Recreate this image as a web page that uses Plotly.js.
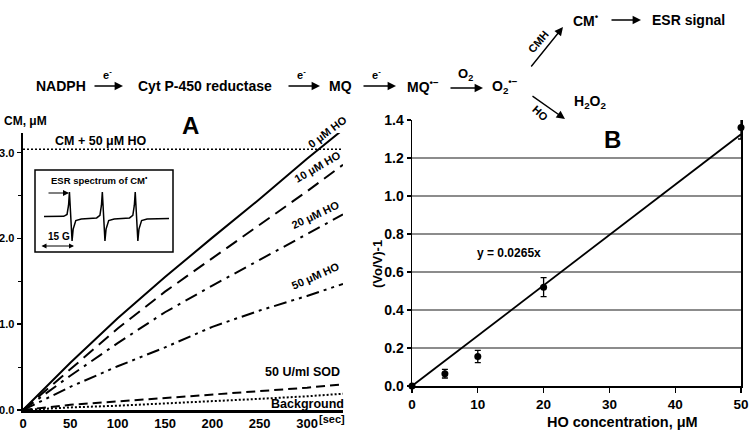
<!DOCTYPE html>
<html>
<head>
<meta charset="utf-8">
<script src="https://cdn.plot.ly/plotly-3.0.1.min.js"></script>
<style>
  html, body { margin: 0; padding: 0; background: #fff; }
  #chart { width: 750px; height: 430px; }
</style>
</head>
<body>
<div id="chart"></div>
<script>
// Panel A - CM radical accumulation over time
const timeSec = [0, 50, 100, 150, 200, 250, 300, 338];
const cmHo0 = [0, 0.55, 1.07, 1.55, 2.01, 2.46, 2.93, 3.27];
const cmHo10 = [0, 0.48, 0.95, 1.38, 1.77, 2.16, 2.55, 2.86];
const cmHo20 = [0, 0.40, 0.78, 1.14, 1.45, 1.75, 2.05, 2.28];
const cmHo50 = [0, 0.27, 0.51, 0.73, 0.97, 1.16, 1.33, 1.47];
const cmSod = [0, 0.06, 0.10, 0.14, 0.18, 0.22, 0.26, 0.30];
const cmBackground = [0, 0.03, 0.05, 0.075, 0.10, 0.13, 0.16, 0.19];
const flatTime = [0, 338];
const cmPlusHo = [3.04, 3.04];
const timeTicks = [0, 50, 100, 150, 200, 250, 300];

// Inset - ESR spectrum of CM* (field in G, arbitrary intensity)
const esrField = [0, 5, 9, 10.5, 11.2, 11.6, 12.0, 12.4, 12.8, 13.3, 14.5, 17,
    22, 24, 25.5, 26.2, 26.6, 27.0, 27.4, 27.8, 28.3, 29.5, 32,
    37, 39, 40.5, 41.2, 41.6, 42.0, 42.4, 42.8, 43.3, 44.5, 47, 57];
const esrSignal = [0.07, 0.08, 0.08, 0.15, 0.5, 1.0, 0.2, -0.6, -0.85, -0.4, -0.08, -0.02,
    0, 0.02, 0.12, 0.5, 1.0, 0.2, -0.6, -0.85, -0.4, -0.08, -0.02,
    0, 0.02, 0.12, 0.5, 1.0, 0.2, -0.6, -0.85, -0.4, -0.08, -0.02, 0];

// Panel B - (Vo/V)-1 vs HO concentration
const hoConc = [0, 5, 10, 20, 50];
const ratio = [0, 0.065, 0.155, 0.52, 1.36];
const ratioErr = [0, 0.023, 0.032, 0.05, 0.06];
const fitX = [0, 50];
const fitY = [0, 1.325];

const W = 750, H = 430;
const px = x => x / W;
const py = y => 1 - y / H;
const FONT = 'Liberation Sans, Arial, sans-serif';

function bold(size) {
    return { family: FONT, size: size, color: '#000', weight: 'bold' };
}

function lineTrace(x, y, dash, width) {
    return {
        x: x, y: y, type: 'scatter', mode: 'lines',
        xaxis: 'x', yaxis: 'y',
        line: { color: '#000', width: width || 2, dash: dash },
        hoverinfo: 'skip', showlegend: false
    };
}

const traces = [
    lineTrace(flatTime, cmPlusHo, '2px,2px', 1.6),
    lineTrace(timeSec, cmHo0, 'solid', 2),
    lineTrace(timeSec, cmHo10, '13px,7px', 2),
    lineTrace(timeSec, cmHo20, '13px,6px,3px,6px', 2),
    lineTrace(timeSec, cmHo50, '13px,5px,3px,5px,3px,5px', 2),
    lineTrace(timeSec, cmSod, '9px,5px', 2),
    lineTrace(timeSec, cmBackground, '2px,2px', 2),
    {
        x: esrField, y: esrSignal, type: 'scatter', mode: 'lines',
        xaxis: 'x3', yaxis: 'y3',
        line: { color: '#000', width: 1.5 },
        hoverinfo: 'skip', showlegend: false
    },
    {
        x: fitX, y: fitY, type: 'scatter', mode: 'lines',
        xaxis: 'x2', yaxis: 'y2',
        line: { color: '#000', width: 1.8 },
        hoverinfo: 'skip', showlegend: false
    },
    {
        x: hoConc, y: ratio, type: 'scatter', mode: 'markers',
        xaxis: 'x2', yaxis: 'y2', cliponaxis: false,
        marker: { color: '#000', size: 7 },
        error_y: { type: 'data', array: ratioErr, color: '#000', thickness: 1.3, width: 3 },
        hoverinfo: 'skip', showlegend: false
    }
];

// text helper in pixel positions
function label(x, y, text, opts) {
    return Object.assign({
        xref: 'paper', yref: 'paper', x: px(x), y: py(y),
        text: text, showarrow: false, xanchor: 'center', yanchor: 'middle',
        font: bold(12)
    }, opts || {});
}

// arrow helper: tail (x0,y0) -> head (x1,y1) in pixels
function arrow(x0, y0, x1, y1, opts) {
    return Object.assign({
        xref: 'paper', yref: 'paper', x: px(x1), y: py(y1),
        ax: x0 - x1, ay: y0 - y1, text: '', showarrow: true,
        arrowhead: 2, arrowsize: 1.2, arrowwidth: 1.4, arrowcolor: '#000'
    }, opts || {});
}

const schemeFont = bold(14);
const smallFont = bold(11);

const annotations = [
    // reaction scheme
    label(61, 86, 'NADPH', { font: schemeFont }),
    arrow(93, 86, 123, 86),
    label(107, 74, 'e<sup>-</sup>', { font: smallFont }),
    label(205, 86, 'Cyt P-450 reductase', { font: schemeFont }),
    arrow(287, 86, 320, 86),
    label(301, 74, 'e<sup>-</sup>', { font: smallFont }),
    label(340, 86, 'MQ', { font: schemeFont }),
    arrow(362, 86, 396, 86),
    label(376, 74, 'e<sup>-</sup>', { font: smallFont }),
    label(423, 86, 'MQ<sup>•−</sup>', { font: schemeFont }),
    arrow(449, 88, 483, 88),
    label(465, 75, 'O<sub>2</sub>', { font: bold(13) }),
    label(505, 86, 'O<sub>2</sub><sup>•−</sup>', { font: schemeFont }),
    arrow(530, 68, 563, 27),
    label(538, 42, 'CMH', { font: smallFont, textangle: -50 }),
    label(586, 20, 'CM<sup>•</sup>', { font: schemeFont }),
    arrow(610, 20, 641, 20),
    label(688, 20, 'ESR signal', { font: schemeFont }),
    arrow(531, 95, 565, 119),
    label(540, 113, 'HO', { font: smallFont, textangle: 42 }),
    label(590, 102, 'H<sub>2</sub>O<sub>2</sub>', { font: schemeFont }),

    // panel A
    label(2, 121, 'CM, μM', { xanchor: 'left' }),
    label(190, 125, 'A', { font: bold(24) }),
    label(101, 141, 'CM + 50 μM HO', { font: bold(12.5) }),
    label(327, 132, '0 μM HO', { textangle: -37, font: bold(11) }),
    label(317, 167, '10 μM HO', { textangle: -30, font: bold(11) }),
    label(315, 215, '20 μM HO', { textangle: -25, font: bold(11) }),
    label(315, 276, '50 μM HO', { textangle: -24, font: bold(11) }),
    label(302, 372, '50 U/ml SOD', { font: bold(12.5) }),
    label(307, 404, 'Background', { font: bold(12.5) }),
    label(332, 419, '[sec]', { font: bold(11) }),

    // inset
    label(99, 180, 'ESR spectrum of CM<sup>•</sup>', { font: bold(9.5) }),
    arrow(47, 193, 69, 193, { arrowhead: 2, arrowwidth: 1.2, arrowsize: 1 }),
    label(59, 236, '15 G', { font: bold(10) }),
    arrow(40, 246, 74, 246, { arrowside: 'end+start', arrowhead: 2, arrowwidth: 1, arrowsize: 1 }),

    // panel B
    label(612, 139, 'B', { font: bold(24) }),
    label(509, 253, 'y = 0.0265x', { font: bold(12) }),
    label(377, 264, '(Vo/V)-1', { textangle: -90, font: bold(13) }),
    label(622, 422, 'HO concentration, μM', { font: bold(14.5) })
];

const layout = {
    width: W, height: H,
    margin: { l: 0, r: 0, t: 0, b: 0 },
    paper_bgcolor: '#fff', plot_bgcolor: 'rgba(0,0,0,0)',
    font: bold(12),
    showlegend: false,
    xaxis: {
        domain: [px(23), px(343)], range: [0, 338], anchor: 'y',
        tickmode: 'array', tickvals: timeTicks, ticks: '',
        showline: true, linecolor: '#000', linewidth: 2.5,
        showgrid: false, zeroline: false,
        tickfont: bold(13)
    },
    yaxis: {
        domain: [py(410), py(133)], range: [0, 3.23], anchor: 'x',
        tickvals: [0, 1, 2, 3], tickformat: '.1f',
        ticks: 'outside', ticklen: 4, tickwidth: 1.5, tickcolor: '#000',
        minor: { dtick: 0.5, ticks: 'outside', ticklen: 3, tickwidth: 1.2, tickcolor: '#000' },
        showline: true, linecolor: '#000', linewidth: 2.5,
        showgrid: false, zeroline: false,
        tickfont: bold(11)
    },
    xaxis2: {
        domain: [px(412), px(741)], range: [0, 50], anchor: 'y2',
        dtick: 10, ticks: 'outside', ticklen: 5, tickwidth: 1.2, tickcolor: '#000',
        showline: true, linecolor: '#000', linewidth: 1.5,
        showgrid: false, zeroline: false,
        tickfont: bold(13.5)
    },
    yaxis2: {
        domain: [py(386), py(120)], range: [0, 1.4], anchor: 'x2',
        dtick: 0.2, tickformat: '.1f',
        ticks: 'outside', ticklen: 4, tickwidth: 1.2, tickcolor: '#000',
        showline: true, mirror: true, linecolor: '#000', linewidth: 1.5,
        showgrid: true, gridcolor: '#8c8c8c', gridwidth: 1.2, zeroline: false,
        tickfont: bold(14)
    },
    xaxis3: {
        domain: [px(44), px(169)], range: [0, 57], anchor: 'y3',
        visible: false, fixedrange: true
    },
    yaxis3: {
        domain: [py(242.3), py(190.6)], range: [-0.9, 1.05], anchor: 'x3',
        visible: false, fixedrange: true
    },
    shapes: [
        {
            type: 'rect', xref: 'paper', yref: 'paper',
            x0: px(35), x1: px(173), y0: py(252), y1: py(170),
            line: { color: '#000', width: 1.5 }, fillcolor: 'rgba(0,0,0,0)', layer: 'below'
        }
    ],
    annotations: annotations
};

Plotly.newPlot('chart', traces, layout, { displayModeBar: false, staticPlot: true });
</script>
</body>
</html>
